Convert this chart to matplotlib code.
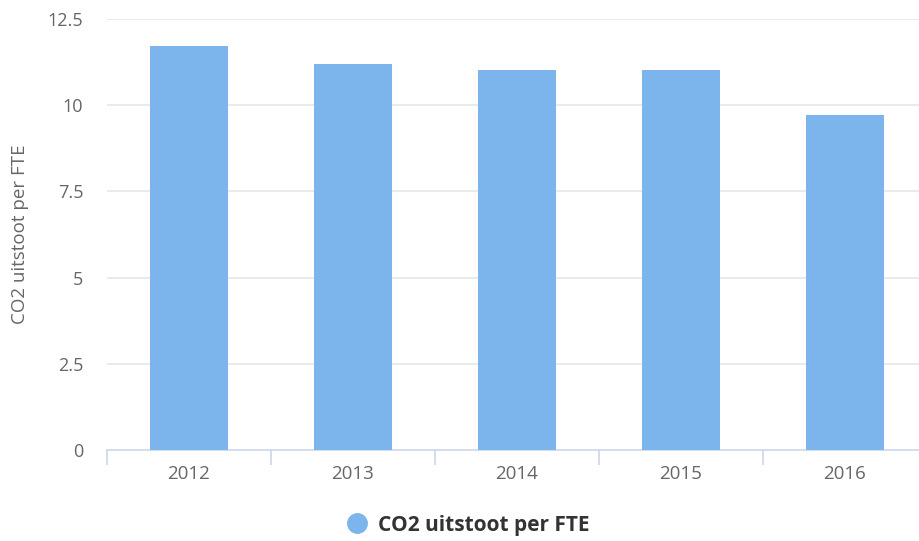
import matplotlib
matplotlib.use('Agg')
import matplotlib.pyplot as plt
from matplotlib.lines import Line2D

years = ['2012', '2013', '2014', '2015', '2016']
co2_per_fte = [11.72, 11.19, 11.02, 11.02, 9.72]
y_ticks = [0, 2.5, 5, 7.5, 10, 12.5]
y_tick_labels = ['0', '2.5', '5', '7.5', '10', '12.5']
series_name = 'CO2 uitstoot per FTE'

plt.rcParams['font.family'] = ['Open Sans', 'DejaVu Sans']

W, H = 920, 541
fig = plt.figure(figsize=(W / 100, H / 100), dpi=100)
# plot area runs a bit past the right edge of the picture
left, right, top, bottom = 107, 927, 19, 450
ax = fig.add_axes([left / W, 1 - bottom / H, (right - left) / W, (bottom - top) / H])

x = range(len(years))
ax.bar(x, co2_per_fte, width=0.476, color='#7cb5ec', zorder=3)

ax.set_xlim(-0.5, len(years) - 0.5)
ax.set_ylim(0, 12.5)
ax.set_yticks(y_ticks)
ax.set_yticklabels(y_tick_labels)
ax.set_xticks(x)
ax.set_xticklabels(years)
ax.set_xticks([i - 0.5 for i in range(len(years) + 1)], minor=True)

for v in y_ticks[1:]:
    ax.axhline(v, color='#e6e6e6', lw=1.2, zorder=1)

for s in ['top', 'right', 'left']:
    ax.spines[s].set_visible(False)
ax.spines['bottom'].set_color('#ccd6eb')
ax.spines['bottom'].set_linewidth(1.2)

ax.tick_params(axis='y', length=0, pad=17, labelsize=13, labelcolor='#666666')
ax.tick_params(axis='x', which='major', length=0, pad=11, labelsize=13.5, labelcolor='#666666')
ax.tick_params(axis='x', which='minor', length=11, width=1.2, color='#ccd6eb')

ax.set_ylabel(series_name, fontsize=13.5, color='#666666')
ax.yaxis.set_label_coords(-78 / (right - left), 0.5)

handle = Line2D([], [], marker='o', linestyle='', markersize=14,
                markerfacecolor='#7cb5ec', markeredgecolor='#7cb5ec')
fig.legend([handle], [series_name], loc='center', bbox_to_anchor=(468 / W, 1 - 525 / H),
           frameon=False, prop={'weight': 'bold', 'size': 15},
           labelcolor='#333333', handletextpad=0.5, handlelength=1.0)

fig.savefig('out.png', dpi=100)
